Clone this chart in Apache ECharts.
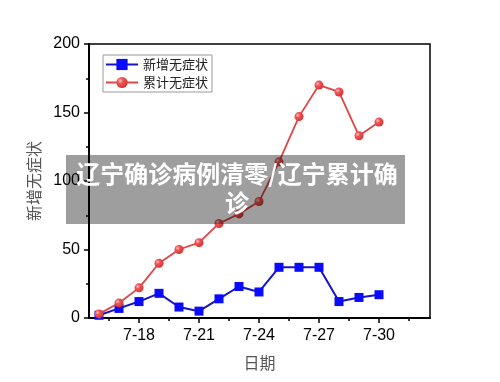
<!DOCTYPE html>
<html>
<head>
<meta charset="utf-8">
<script src="https://cdn.jsdelivr.net/npm/echarts@6/dist/echarts.min.js"></script>
<style>html,body{margin:0;padding:0;background:#fff}#c{width:500px;height:382px}</style>
</head>
<body>
<div id="c"></div>
<script>
var dates = ['7-16','7-17','7-18','7-19','7-20','7-21','7-22','7-23','7-24','7-25','7-26','7-27','7-28','7-29','7-30'];
var newAsym = [2,7,12,18,8,5,14,23,19,37,37,37,12,15,17];
var totalAsym = [3,11,22,40,50,55,69,76,85,114,147,170,165,133,143];
var xTickLabels = ['7-18','7-21','7-24','7-27','7-30'];
var yTicks = [0,50,100,150,200];
var seriesNames = ['新增无症状','累计无症状'];
var titleText = '辽宁确诊病例清零/辽宁累计确\n诊';
var xName = '日期';
var yName = '新增无症状';

function dayOf(s){ return parseInt(s.split('-')[1], 10); }
var majorDays = xTickLabels.map(dayOf);
var minorDays = majorDays.map(function(d){ return d - 1.5; }).concat([majorDays[majorDays.length-1] + 1.5]);

var chart = echarts.init(document.getElementById('c'));
var font = 'Liberation Sans, Arial, sans-serif';
var cjk = '"Noto Sans CJK SC", sans-serif';
var redBall = new echarts.graphic.RadialGradient(0.35, 0.35, 0.7, [
  {offset: 0, color: '#ffc8c8'},
  {offset: 0.35, color: '#ee5555'},
  {offset: 1, color: '#d83030'}
]);

chart.setOption({
  animation: false,
  grid: {left: 89, right: 70, top: 44, bottom: 64, show: true, borderColor: '#000', borderWidth: 1.5},
  legend: {
    left: 103, top: 55, orient: 'vertical',
    padding: [3, 4, 3, 2], itemGap: 5, itemWidth: 32, itemHeight: 14,
    borderColor: '#999', borderWidth: 1,
    textStyle: {fontSize: 13, color: '#222', fontFamily: cjk},
    data: seriesNames
  },
  xAxis: [{
    type: 'value', min: 15.5, max: 32.55,
    name: xName, nameLocation: 'middle', nameGap: 37,
    nameTextStyle: {fontSize: 16, color: '#555', fontFamily: cjk},
    axisLine: {onZero: false, lineStyle: {color: '#000', width: 2}},
    axisTick: {show: true, length: 5, lineStyle: {color: '#000', width: 1.5}, customValues: majorDays},
    axisLabel: {fontSize: 16, color: '#000', fontFamily: font, margin: 10, customValues: majorDays,
      formatter: function(v){ var i = majorDays.indexOf(Math.round(v)); return i >= 0 ? xTickLabels[i] : ''; }},
    splitLine: {show: false}
  }, {
    type: 'value', min: 15.5, max: 32.55, position: 'bottom',
    axisLine: {show: false},
    axisTick: {show: true, length: 3, lineStyle: {color: '#000', width: 1.5}, customValues: minorDays},
    axisLabel: {show: false, customValues: minorDays},
    splitLine: {show: false}
  }],
  yAxis: {
    type: 'value', min: yTicks[0], max: yTicks[yTicks.length-1], interval: yTicks[1] - yTicks[0],
    name: yName, nameLocation: 'middle', nameGap: 45, nameRotate: 90,
    nameTextStyle: {fontSize: 16, color: '#555', fontFamily: cjk},
    axisLine: {show: true, lineStyle: {color: '#000', width: 2}},
    axisTick: {show: true, length: 5, lineStyle: {color: '#000', width: 1.5}},
    minorTick: {show: true, splitNumber: 2, length: 3, lineStyle: {color: '#000', width: 1.5}},
    axisLabel: {fontSize: 16, color: '#000', fontFamily: font, margin: 9},
    splitLine: {show: false}
  },
  series: [{
    name: seriesNames[0], type: 'line',
    data: dates.map(function(d, i){ return [dayOf(d), newAsym[i]]; }),
    symbol: 'rect', symbolSize: 9,
    lineStyle: {color: '#1414c8', width: 2},
    itemStyle: {color: '#0a0aff', borderWidth: 0},
    z: 2
  }, {
    name: seriesNames[1], type: 'line',
    data: dates.map(function(d, i){ return [dayOf(d), totalAsym[i]]; }),
    symbol: 'circle', symbolSize: 9,
    lineStyle: {color: '#e04545', width: 1.8},
    itemStyle: {color: redBall, borderWidth: 0},
    z: 3
  }],
  graphic: [{
    type: 'rect', z: 100, left: 66, top: 155,
    shape: {width: 339, height: 69},
    style: {fill: 'rgba(0,0,0,0.38)'}
  }, {
    type: 'text', z: 101, x: 237, y: 159,
    style: {text: titleText, fill: '#fff', font: 'bold 24px "Noto Sans CJK SC", sans-serif',
      align: 'center', verticalAlign: 'top', lineHeight: 29}
  }]
});
</script>
</body>
</html>
